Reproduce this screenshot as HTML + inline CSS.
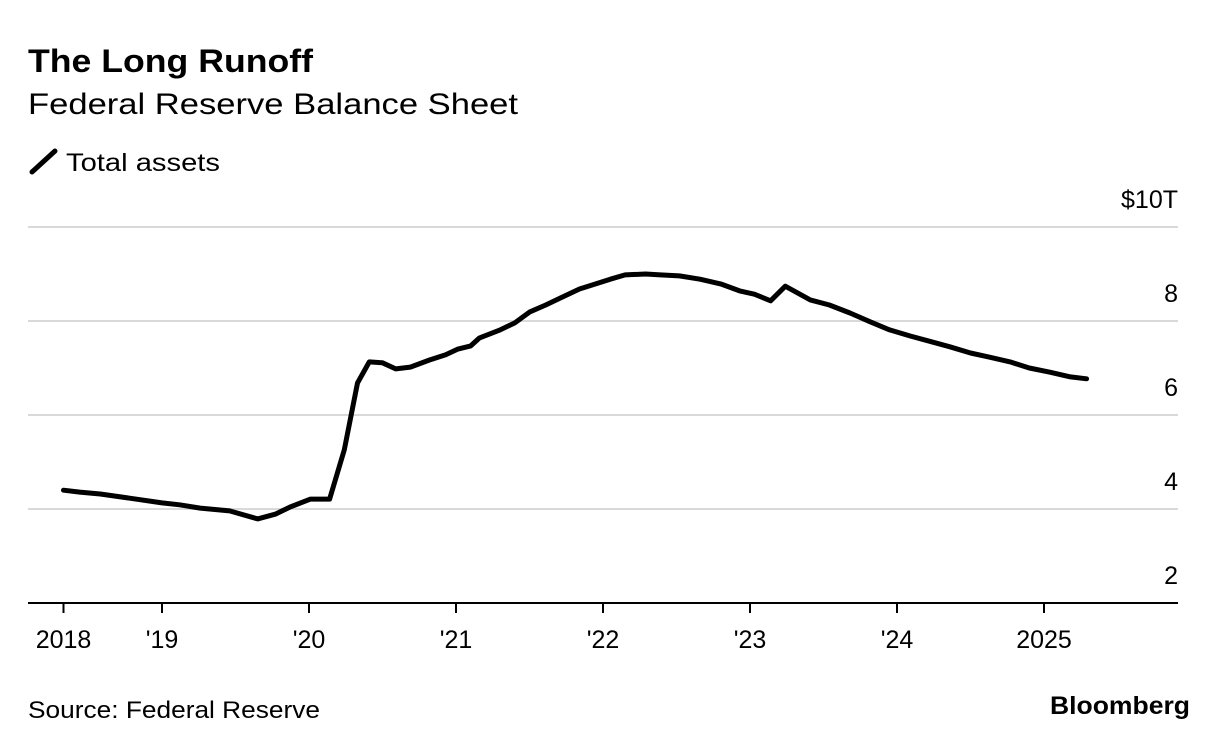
<!DOCTYPE html>
<html><head><meta charset="utf-8"><style>
body{margin:0;background:#fff;width:1230px;height:750px;overflow:hidden;font-family:"Liberation Sans",sans-serif;}
</style></head><body>
<svg width="1230" height="750" style="font-family:'Liberation Sans',sans-serif">
<text x="28" y="72" font-size="32" font-weight="bold" fill="#000" textLength="285" lengthAdjust="spacingAndGlyphs">The Long Runoff</text>
<text x="28" y="114" font-size="30" fill="#000" textLength="490" lengthAdjust="spacingAndGlyphs">Federal Reserve Balance Sheet</text>
<line x1="32" y1="172" x2="55" y2="151" stroke="#000" stroke-width="5" stroke-linecap="round"/>
<text x="66" y="171" font-size="25" fill="#000" textLength="154" lengthAdjust="spacingAndGlyphs">Total assets</text>
<g id="grid"></g><g id="xaxis"></g>
<path id="line" fill="none" stroke="#000" stroke-width="5" stroke-linejoin="round" stroke-linecap="round"/>
<text x="28" y="718" font-size="24" fill="#000" textLength="292" lengthAdjust="spacingAndGlyphs">Source: Federal Reserve</text>
<text x="1190" y="714" font-size="25" font-weight="bold" text-anchor="end" fill="#000" textLength="140" lengthAdjust="spacingAndGlyphs">Bloomberg</text>
</svg>
<script>
const dates=[2018.33,2018.44,2018.58,2018.78,2019.0,2019.12,2019.26,2019.46,2019.65,2019.77,2019.87,2020.01,2020.14,2020.24,2020.33,2020.41,2020.50,2020.59,2020.69,2020.82,2020.93,2021.01,2021.10,2021.16,2021.30,2021.40,2021.50,2021.61,2021.71,2021.84,2021.95,2022.05,2022.15,2022.29,2022.39,2022.52,2022.66,2022.80,2022.93,2023.03,2023.14,2023.24,2023.41,2023.54,2023.68,2023.82,2023.95,2024.09,2024.22,2024.36,2024.50,2024.63,2024.77,2024.90,2025.04,2025.18,2025.29];
const values=[4.40,4.36,4.32,4.23,4.13,4.09,4.02,3.96,3.79,3.89,4.04,4.21,4.21,5.26,6.68,7.13,7.11,6.98,7.02,7.17,7.28,7.40,7.47,7.64,7.81,7.96,8.19,8.34,8.49,8.68,8.79,8.89,8.98,9.00,8.98,8.96,8.89,8.79,8.64,8.57,8.43,8.74,8.45,8.34,8.17,7.98,7.81,7.68,7.57,7.45,7.32,7.23,7.13,7.00,6.91,6.81,6.77];
const yTicks=[2,4,6,8,10];
const yTickLabels=["2","4","6","8","$10T"];
const xTicks=[2018.33,2019,2020,2021,2022,2023,2024,2025];
const xTickLabels=["2018","'19","'20","'21","'22","'23","'24","2025"];
const X=d=>162+(d-2019)*147;
const Y=v=>603-(v-2)*47;
const NS="http://www.w3.org/2000/svg";
const grid=document.getElementById('grid'),xa=document.getElementById('xaxis');
yTicks.forEach((t,i)=>{
  if(t>2){const l=document.createElementNS(NS,'line');
  l.setAttribute('x1',28);l.setAttribute('x2',1178);l.setAttribute('y1',Y(t));l.setAttribute('y2',Y(t));
  l.setAttribute('stroke','#d9d9d9');l.setAttribute('stroke-width','2');
  
  
  grid.appendChild(l);}
  const tx=document.createElementNS(NS,'text');
  tx.setAttribute('x',1178);tx.setAttribute('y',Y(t)-19);tx.setAttribute('text-anchor','end');tx.setAttribute('font-size','25');
  tx.textContent=yTickLabels[i];
  
  
  grid.appendChild(tx);
});
const ax=document.createElementNS(NS,'line');
ax.setAttribute('x1',28);ax.setAttribute('x2',1178);ax.setAttribute('y1',603);ax.setAttribute('y2',603);ax.setAttribute('stroke','#000');ax.setAttribute('stroke-width','2');


xa.appendChild(ax);
xTicks.forEach((t,i)=>{
  const l=document.createElementNS(NS,'line');
  l.setAttribute('x1',X(t));l.setAttribute('x2',X(t));l.setAttribute('y1',603);l.setAttribute('y2',613);l.setAttribute('stroke','#000');l.setAttribute('stroke-width','2');
  
  
  xa.appendChild(l);
  const tx=document.createElementNS(NS,'text');
  tx.setAttribute('x',X(t));tx.setAttribute('y',648);tx.setAttribute('text-anchor','middle');tx.setAttribute('font-size','25');
  tx.textContent=xTickLabels[i];
  
  
  xa.appendChild(tx);
});
document.getElementById('line').setAttribute('d',dates.map((d,i)=>(i?'L':'M')+X(d).toFixed(1)+','+Y(values[i]).toFixed(1)).join(''));
</script>
</body></html>
